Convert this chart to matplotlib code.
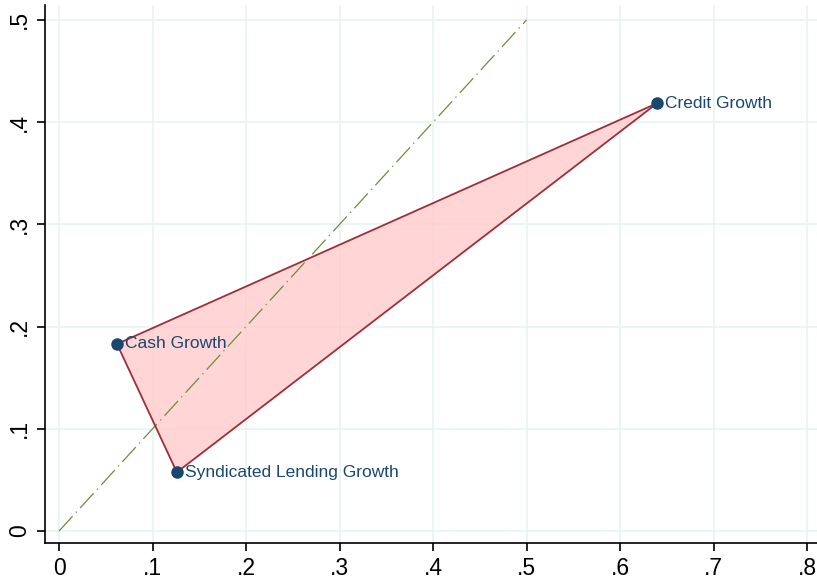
import matplotlib
matplotlib.use('Agg')
import matplotlib.pyplot as plt
import numpy as np

# points
names = ['Credit Growth', 'Cash Growth', 'Syndicated Lending Growth']
x_vals = [0.6396, 0.062, 0.126]
y_vals = [0.4185, 0.183, 0.0575]
diag = [0, 0.5]

xticks = [0, 0.1, 0.2, 0.3, 0.4, 0.5, 0.6, 0.7, 0.8]
xtick_labels = ['0', '.1', '.2', '.3', '.4', '.5', '.6', '.7', '.8']
yticks = [0, 0.1, 0.2, 0.3, 0.4, 0.5]
ytick_labels = ['0', '.1', '.2', '.3', '.4', '.5']

plt.rcParams['font.family'] = ['Liberation Sans', 'DejaVu Sans']

fig = plt.figure(figsize=(8.17, 5.82), dpi=100)
ax = fig.add_axes([45 / 817, 39 / 582, 772 / 817, 538 / 582])

ax.set_xlim(-0.015, 0.8106)
ax.set_ylim(-0.0117, 0.5146)

ax.grid(True, color='#eaf2f3', linewidth=1.2)
ax.set_axisbelow(True)

ax.plot(diag, diag, color='#6b8e3a', linewidth=0.9,
        dashes=(16, 4, 1, 4), zorder=3)

ax.fill(x_vals, y_vals, facecolor='#ffc8c8', alpha=0.75, edgecolor='none', zorder=2)
ax.fill(x_vals, y_vals, facecolor='none', edgecolor='#9e2f38', linewidth=1.3, zorder=4)

ax.scatter(x_vals, y_vals, s=64, color='#1a476f', zorder=5)
for nm, xv, yv in zip(names, x_vals, y_vals):
    ax.annotate(nm, (xv, yv), xytext=(6, 0), textcoords='offset points',
                va='center', ha='left', fontsize=12.5, color='#1a476f', zorder=6)

ax.set_xticks(xticks)
ax.set_xticklabels(xtick_labels, fontsize=16.5)
ax.set_yticks(yticks)
ax.set_yticklabels(ytick_labels, fontsize=16.5, rotation=90, va='center')

ax.tick_params(axis='both', direction='out', length=6, width=1.2, color='black', pad=4)
ax.spines['top'].set_visible(False)
ax.spines['right'].set_visible(False)
ax.spines['left'].set_linewidth(1.2)
ax.spines['bottom'].set_linewidth(1.2)

fig.savefig('out.png', dpi=100)
